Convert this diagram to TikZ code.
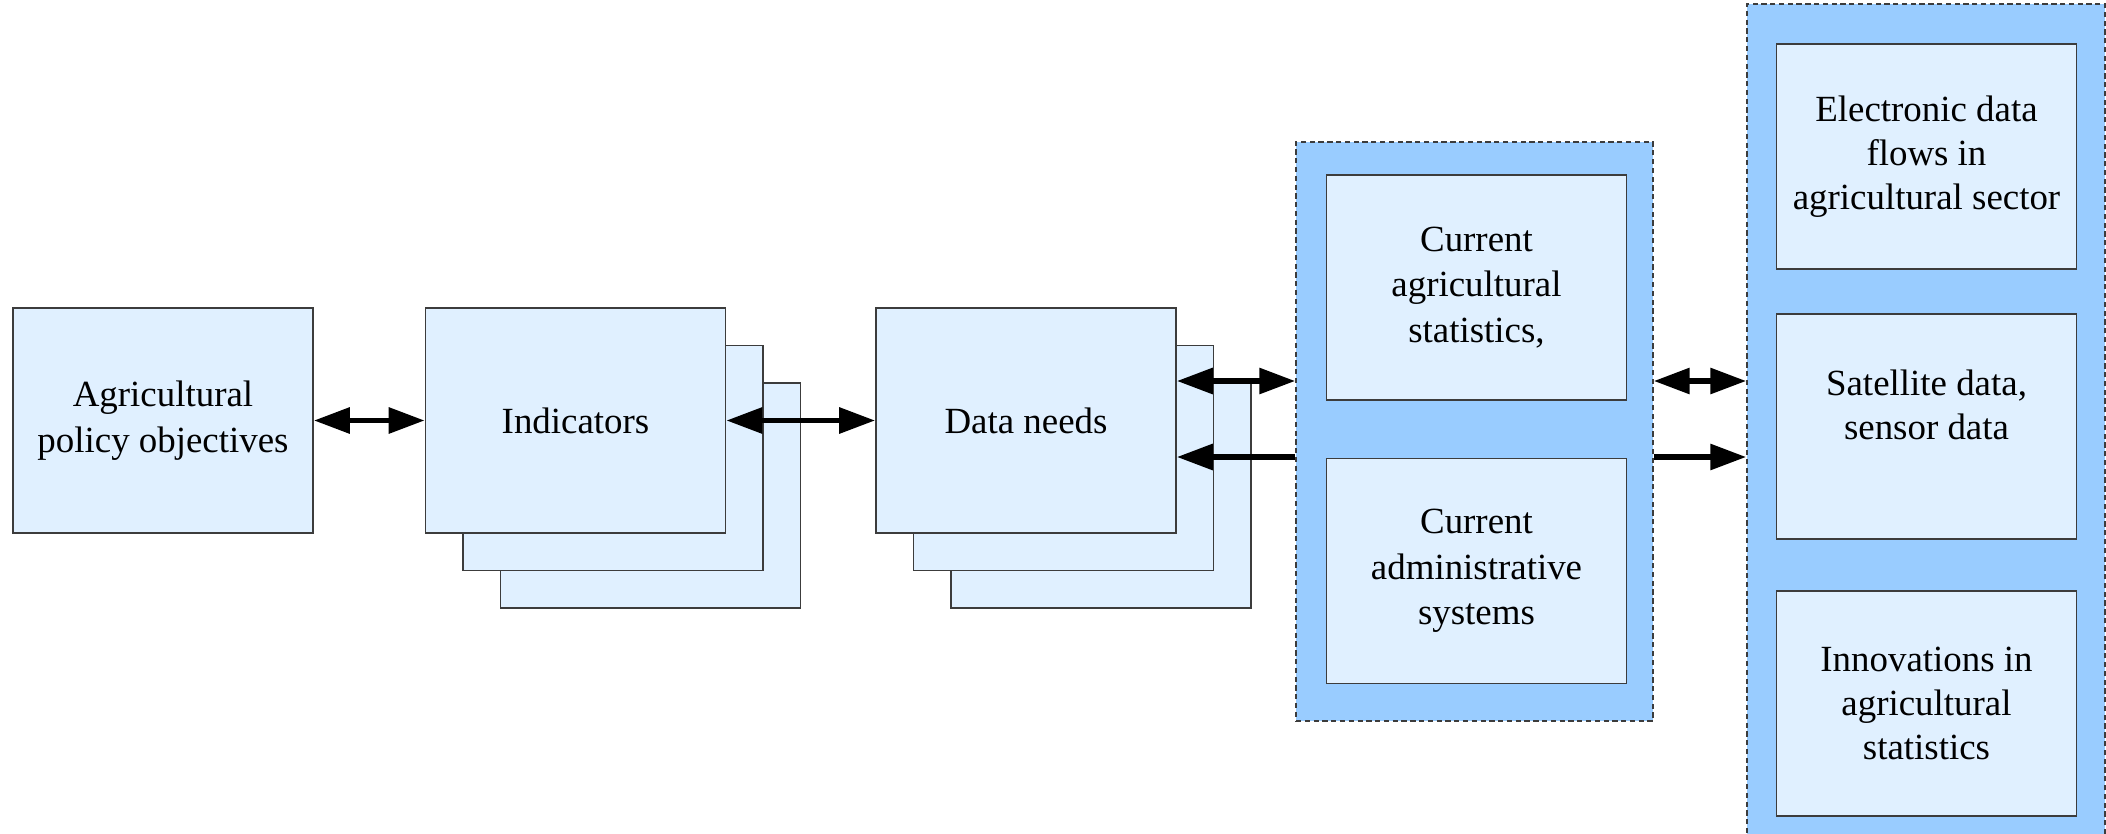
\documentclass[tikz,border=0pt]{standalone}
\usepackage{fontspec}
\setmainfont{Liberation Serif}
\usetikzlibrary{arrows.meta}
\definecolor{boxblue}{HTML}{E0F0FF}
\definecolor{groupblue}{HTML}{99CCFF}
\definecolor{edgegray}{HTML}{3C3C3C}
\tikzset{
  box/.style={draw=edgegray,fill=boxblue,line width=0.45pt,minimum width=3cm,minimum height=2.25cm,inner sep=0pt,align=center,font=\fontsize{10.5}{13}\selectfont},
  rbox/.style={box,font=\fontsize{10.5}{12.5}\selectfont},
  group/.style={draw=edgegray,fill=groupblue,line width=0.4pt,dash pattern=on 1.5pt off 1pt,inner sep=0pt},
  link/.style={line width=1.7pt}
}
\begin{document}
\begin{tikzpicture}[>={Triangle[length=3.6mm,width=2.5mm]}]
  \path[use as bounding box,clip] (0,0) rectangle (21.06,8.33);
  \node[group,minimum width=3.57cm,minimum height=5.79cm] (mid) at (14.745,4.015) {};
  \node[group,minimum width=3.58cm,minimum height=8.5cm] (rgt) at (19.26,4.04) {};
  \node[box] (agri) at (1.63,4.125) {Agricultural\\policy objectives};
  \foreach \k in {2,1}{
    \node[box] (ind\k) at (5.755+0.375*\k,4.125-0.375*\k) {};
    \node[box] (need\k) at (10.26+0.375*\k,4.125-0.375*\k) {};
  }
  \node[box] (ind) at (5.755,4.125) {Indicators};
  \node[box] (need) at (10.26,4.125) {Data needs};
  \node[box] (stats) at (14.765,5.455) {Current\\agricultural\\statistics,};
  \node[box] (admin) at (14.765,2.62) {Current\\administrative\\systems};
  \node[rbox] (flows) at (19.265,6.765) {Electronic data\\flows in\\agricultural sector};
  \node[rbox] (sat) at (19.265,4.065) {Satellite data,\\sensor data\\{}};
  \node[rbox] (innov) at (19.265,1.295) {Innovations in\\agricultural\\statistics};
  \coordinate (up) at ([yshift=3.95mm]need.east);
  \coordinate (lo) at ([yshift=-3.65mm]need.east);
  \draw[link,<->] (agri) -- (ind);
  \draw[link,<->] (ind) -- (need);
  \draw[link,<->] (up) -- (up -| mid.west);
  \draw[link,->] (lo -| mid.west) -- (lo);
  \draw[link,<->] (up -| mid.east) -- (up -| rgt.west);
  \draw[link,->] (lo -| mid.east) -- (lo -| rgt.west);
\end{tikzpicture}
\end{document}
